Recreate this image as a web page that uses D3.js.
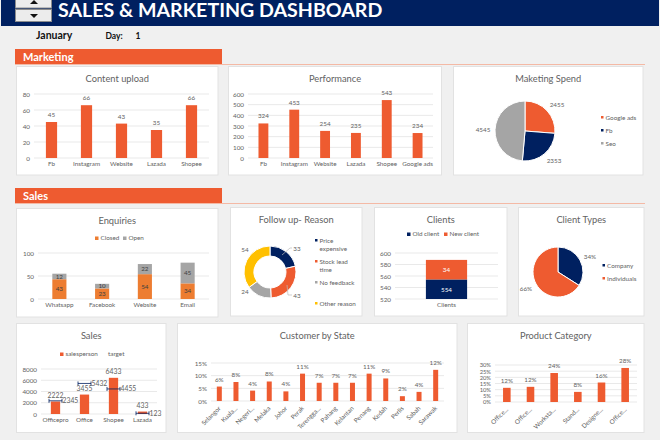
<!DOCTYPE html>
<html>
<head>
<meta charset="utf-8">
<script src="https://cdn.jsdelivr.net/npm/d3@7"></script>
<style>
  body { margin: 0; background: #f0f0f0; }
  svg { display: block; }
  text { font-family: Lato, "Open Sans", sans-serif; }
</style>
</head>
<body>
<div id="dash"></div>
<script>
var navy = "#002060", orange = "#ee5b30", grey = "#a5a5a5", gold = "#ffc000", closedCol = "#ed7d31";
var textCol = "#626262", gridCol = "#e9e9e9";
var small = 6.3; // ticks, data labels, legends

// marketing
var uploadCats = ["Fb", "Instagram", "Website", "Lazada", "Shopee"];
var uploadVals = [45, 66, 43, 35, 66];
var uploadTicks = [0, 20, 40, 60, 80];

var perfCats = ["Fb", "Instagram", "Website", "Lazada", "Shopee", "Google ads"];
var perfVals = [324, 453, 254, 235, 543, 234];
var perfTicks = [0, 100, 200, 300, 400, 500, 600];

var spendCats = ["Google ads", "Fb", "Seo"];
var spendVals = [2455, 2353, 4545];

// sales
var enqCats = ["Whatsapp", "Facebook", "Website", "Email"];
var enqClosed = [43, 23, 54, 34];
var enqOpen = [12, 10, 22, 45];
var enqTicks = [0, 50, 100];

var reasonCats = [["Price", "expensive"], ["Stock lead", "time"], ["No feedback"], ["Other reason"]];
var reasonVals = [33, 43, 24, 54];

var clientOld = 554;
var clientNew = 34;
var clientTicks = [520, 540, 560, 580, 600];

var typeCats = ["Company", "Individuals"];
var typeVals = [34, 66];

var salesCats = ["Officepro", "Office", "Shopee", "Lazada"];
var salesVals = [2222, 3455, 6433, 433];
var targetVals = [2345, 5432, 4455, 123];
var salesTicks = [0, 2000, 4000, 6000, 8000];

var stateCats = ["Selangor", "Kuala...", "Negeri...", "Melaka", "Johor", "Perak", "Terengga...", "Pahang", "Kelantan", "Penang", "Kedah", "Perlis", "Sabah", "Sarawak"];
var stateVals = [0.057, 0.075, 0.041, 0.077, 0.038, 0.108, 0.072, 0.072, 0.072, 0.108, 0.089, 0.019, 0.036, 0.123];
var stateTicks = [0, 0.05, 0.10, 0.15];

var productCats = ["Office...", "Office...", "Worksta...", "Stand...", "Designe...", "Office..."];
var productVals = [0.115, 0.123, 0.235, 0.082, 0.158, 0.276];
var productTicks = [0, 0.05, 0.10, 0.15, 0.20, 0.25, 0.30];

var svg = d3.select("#dash").append("svg").attr("width", 660).attr("height", 440);
var pct = d3.format(".0%");

function label(g, x, y, str, size, col, anchor, weight) {
  return g.append("text").attr("x", x).attr("y", y).text(str)
    .attr("font-size", size).attr("fill", col || textCol)
    .attr("text-anchor", anchor || "middle")
    .attr("font-weight", weight || "normal");
}

function panel(x0, y0, x1, y1, title) {
  svg.append("rect").attr("x", x0).attr("y", y0).attr("width", x1 - x0).attr("height", y1 - y0)
    .attr("fill", "#fff").attr("stroke", "#e2e2e2");
  label(svg, (x0 + x1) / 2, y0 + 15, title, 9.3);
}

function grid(g, y, ticks, x0, x1) {
  g.selectAll("line.grid").data(ticks).enter().append("line").attr("class", "grid")
    .attr("x1", x0).attr("x2", x1)
    .attr("y1", function(d) { return y(d); }).attr("y2", function(d) { return y(d); })
    .attr("stroke", gridCol);
}

function styleAxis(a, size) {
  a.select(".domain").remove();
  a.selectAll(".tick line").remove();
  a.selectAll("text").attr("fill", textCol).style("font-family", "Lato").attr("font-size", size || small);
}

// axes and gridlines shared by every cartesian chart
function frame(o) {
  var g = svg.append("g");
  var x = d3.scaleBand().domain(d3.range(o.cats.length)).range([o.x0, o.x1])
    .paddingInner(o.gap).paddingOuter(o.gap / 2);
  var y = d3.scaleLinear().domain(d3.extent(o.ticks)).range([o.y0, o.y1]);
  grid(g, y, o.ticks, o.x0, o.x1);
  var ax = g.append("g").attr("transform", "translate(" + o.x0 + ",0)")
    .call(d3.axisLeft(y).tickValues(o.ticks).tickFormat(o.fmt || d3.format("d")).tickSize(0).tickPadding(4));
  styleAxis(ax, o.tickSize);
  var bx = g.append("g").attr("transform", "translate(0," + o.y0 + ")")
    .call(d3.axisBottom(x).tickFormat(function(i) { return o.cats[i]; }).tickSize(0).tickPadding(4));
  styleAxis(bx);
  if (o.rotate) {
    bx.selectAll("text").attr("text-anchor", "end").attr("dy", 0)
      .attr("transform", "translate(-1,5) rotate(-45)");
  }
  return { g: g, x: x, y: y };
}

function barChart(o) {
  var f = frame(o);
  f.g.selectAll("rect.bar").data(o.vals).enter().append("rect").attr("class", "bar")
    .attr("x", function(d, i) { return f.x(i); })
    .attr("width", f.x.bandwidth())
    .attr("y", function(d) { return f.y(d); })
    .attr("height", function(d) { return o.y0 - f.y(d); })
    .attr("fill", orange);
  if (o.showLabels !== false) {
    f.g.selectAll("text.val").data(o.vals).enter().append("text").attr("class", "val")
      .attr("x", function(d, i) { return f.x(i) + f.x.bandwidth() / 2; })
      .attr("y", function(d) { return f.y(d) - 5; })
      .attr("text-anchor", "middle").attr("font-size", small).attr("fill", textCol)
      .text(o.fmt || function(d) { return d; });
  }
  return f;
}

function pieChart(vals, colors, cx, cy, inner, outer) {
  var arcs = d3.pie().sort(null)(vals);
  var arc = d3.arc().innerRadius(inner).outerRadius(outer);
  svg.append("g").attr("transform", "translate(" + cx + "," + cy + ")")
    .selectAll("path").data(arcs).enter().append("path")
    .attr("d", arc)
    .attr("fill", function(d, i) { return colors[i]; })
    .attr("stroke", "#fff").attr("stroke-width", 1);
}

function legendItem(x, y, col, str, size) {
  svg.append("rect").attr("x", x).attr("y", y - 1.5).attr("width", size || 2.5).attr("height", size || 2.5).attr("fill", col);
  label(svg, x + (size || 2.5) + 2, y + 2, str, small, textCol, "start");
}

// header
svg.append("rect").attr("x", 1).attr("y", 0).attr("width", 658).attr("height", 26).attr("fill", navy);
svg.append("rect").attr("x", 15.5).attr("y", -2).attr("width", 36).attr("height", 10).attr("fill", "#ececec").attr("stroke", "#8c8c8c");
svg.append("rect").attr("x", 15.5).attr("y", 9.5).attr("width", 36).attr("height", 12).attr("fill", "#ececec").attr("stroke", "#8c8c8c");
svg.append("path").attr("d", "M30,4 L38,4 L34,0 Z").attr("fill", "#111");
svg.append("path").attr("d", "M30,14 L38,14 L34,18 Z").attr("fill", "#111");
label(svg, 58, 16.5, "SALES & MARKETING DASHBOARD", 19.6, "#fff", "start", "bold");

label(svg, 36, 38.5, "January", 10.5, "#111", "start", "bold");
label(svg, 105.5, 38.5, "Day:", 8.5, "#111", "start", "bold");
label(svg, 135.5, 38.5, "1", 8.5, "#111", "start", "bold");

// section bands
[["Marketing", 49, 64], ["Sales", 188, 203]].forEach(function(s) {
  svg.append("line").attr("x1", 15).attr("x2", 645).attr("y1", s[2] + 0.5).attr("y2", s[2] + 0.5)
    .attr("stroke", "#f4b9a5");
  svg.append("rect").attr("x", 15).attr("y", s[1]).attr("width", 207).attr("height", s[2] - s[1]).attr("fill", orange);
  label(svg, 23, s[2] - 3.5, s[0], 11, "#fff", "start", "bold");
});

// Content upload
panel(16.5, 66.5, 218, 175, "Content upload");
barChart({ cats: uploadCats, vals: uploadVals, ticks: uploadTicks, x0: 34, x1: 209, y0: 158, y1: 94, gap: 0.68 });

// Performance
panel(228.5, 66.5, 441.5, 175, "Performance");
barChart({ cats: perfCats, vals: perfVals, ticks: perfTicks, x0: 248, x1: 433, y0: 158, y1: 94, gap: 0.68 });

// Marketing spend
panel(453.5, 66.5, 643, 175, "Maketing Spend");
var spendCols = [orange, navy, grey];
pieChart(spendVals, spendCols, 525, 131, 0, 30);
label(svg, 557, 107, spendVals[0], small);
label(svg, 554, 162.5, spendVals[1], small);
label(svg, 483, 131.5, spendVals[2], small);
spendCats.forEach(function(c, i) { legendItem(601, 117.5 + i * 13, spendCols[i], c); });

// Enquiries
panel(16.5, 208.5, 218, 317, "Enquiries");
var enq = frame({ cats: enqCats, ticks: enqTicks, x0: 38, x1: 209, y0: 299, y1: 253, gap: 0.67 });
var enqStack = d3.stack().keys(["closed", "open"])(enqCats.map(function(c, i) {
  return { closed: enqClosed[i], open: enqOpen[i] };
}));
var enqCols = [closedCol, grey];
enqStack.forEach(function(layer, k) {
  enq.g.selectAll("rect.s" + k).data(layer).enter().append("rect").attr("class", "s" + k)
    .attr("x", function(d, i) { return enq.x(i); })
    .attr("width", enq.x.bandwidth())
    .attr("y", function(d) { return enq.y(d[1]); })
    .attr("height", function(d) { return enq.y(d[0]) - enq.y(d[1]); })
    .attr("fill", enqCols[k]);
  enq.g.selectAll("text.l" + k).data(layer).enter().append("text").attr("class", "l" + k)
    .attr("x", function(d, i) { return enq.x(i) + enq.x.bandwidth() / 2; })
    .attr("y", function(d) { return enq.y((d[0] + d[1]) / 2) + 2.3; })
    .attr("text-anchor", "middle").attr("font-size", small).attr("fill", "#404040")
    .text(function(d) { return d[1] - d[0]; });
});
legendItem(95, 238, closedCol, "Closed", 3.5);
legendItem(123, 238, grey, "Open", 3.5);

// Follow up reason
panel(230.5, 207.5, 362, 316, "Follow up- Reason");
var reasonCols = [navy, orange, grey, gold];
pieChart(reasonVals, reasonCols, 270, 272, 16, 26);
label(svg, 297, 250.5, reasonVals[0], small);
label(svg, 297, 297.5, reasonVals[1], small);
label(svg, 245, 294, reasonVals[2], small);
label(svg, 245, 251.5, reasonVals[3], small);
svg.append("path").attr("d", "M282,255 L290,248 L292,248 M287,285 L288,295 L292,295")
  .attr("fill", "none").attr("stroke", "#bbb").attr("stroke-width", 0.7);
var reasonY = [240, 261, 282, 303];
reasonCats.forEach(function(lines, i) {
  svg.append("rect").attr("x", 315).attr("y", reasonY[i] - 1).attr("width", 2.5).attr("height", 2.5).attr("fill", reasonCols[i]);
  lines.forEach(function(s, j) {
    label(svg, 319.5, reasonY[i] + 2.5 + j * 8, s, small, textCol, "start");
  });
});

// Clients
panel(374.5, 207.5, 507, 316, "Clients");
var cl = frame({ cats: ["Clients"], ticks: clientTicks, x0: 395, x1: 498, y0: 299, y1: 253, gap: 0.6 });
var clBars = [[clientTicks[0], clientOld, navy, clientOld], [clientOld, clientOld + clientNew, orange, clientNew]];
clBars.forEach(function(b) {
  cl.g.append("rect").attr("x", cl.x(0)).attr("width", cl.x.bandwidth())
    .attr("y", cl.y(b[1])).attr("height", cl.y(b[0]) - cl.y(b[1])).attr("fill", b[2]);
  cl.g.append("text").attr("x", cl.x(0) + cl.x.bandwidth() / 2).attr("y", cl.y((b[0] + b[1]) / 2) + 2.3)
    .attr("text-anchor", "middle").attr("font-size", small).attr("fill", "#fff").text(b[3]);
});
legendItem(407, 234, navy, "Old client", 3.5);
legendItem(444, 234, orange, "New client", 3.5);

// Client types
panel(518.5, 207.5, 644, 316, "Client Types");
var typeCols = [navy, orange];
pieChart(typeVals, typeCols, 558, 272, 0, 25);
label(svg, 590, 258.5, typeVals[0] + "%", small);
label(svg, 526, 290.5, typeVals[1] + "%", small);
typeCats.forEach(function(c, i) { legendItem(602.5, 265.5 + i * 13, typeCols[i], c); });

// Sales
panel(16.5, 323.5, 166, 432.5, "Sales");
var sales = barChart({ cats: salesCats, vals: salesVals, ticks: salesTicks, x0: 41, x1: 157, y0: 414, y1: 369, gap: 0.68, showLabels: false, fmt: d3.format("d") });
sales.g.selectAll("text.val").data(salesVals).enter().append("text").attr("class", "val")
  .attr("x", function(d, i) { return sales.x(i) + sales.x.bandwidth() / 2; })
  .attr("y", function(d) { return sales.y(d) - 4; })
  .attr("text-anchor", "middle").attr("font-size", 6.8).attr("fill", textCol)
  .text(function(d) { return d; });
var capW = 6.5;
var tg = sales.g.selectAll("g.target").data(targetVals).enter().append("g").attr("class", "target")
  .attr("transform", function(d, i) {
    return "translate(" + (sales.x(i) + sales.x.bandwidth() / 2) + "," + sales.y(d) + ")";
  });
tg.append("path").attr("d", "M" + -capW + ",-2 V2 M" + -capW + ",0 H" + capW + " M" + capW + ",-2 V2")
  .attr("fill", "none").attr("stroke", navy).attr("stroke-width", 0.8);
tg.append("text").attr("x", capW + 0.5).attr("y", 2.5).attr("font-size", 6.8).attr("fill", textCol)
  .text(function(d) { return d; });
legendItem(60, 354, orange, "salesperson", 3.5);
label(svg, 108, 356, "target", small, textCol, "start");

// Customer by state
panel(177.5, 323.5, 457, 432.5, "Customer by State");
barChart({ cats: stateCats, vals: stateVals, ticks: stateTicks, x0: 211, x1: 444, y0: 401, y1: 363, gap: 0.7, fmt: pct, rotate: true });

// Product category
panel(467.5, 323.5, 644, 432.5, "Product Category");
barChart({ cats: productCats, vals: productVals, ticks: productTicks, x0: 495, x1: 637, y0: 402, y1: 365, gap: 0.68, fmt: pct, rotate: true, tickSize: 5.8 });
</script>
</body>
</html>
